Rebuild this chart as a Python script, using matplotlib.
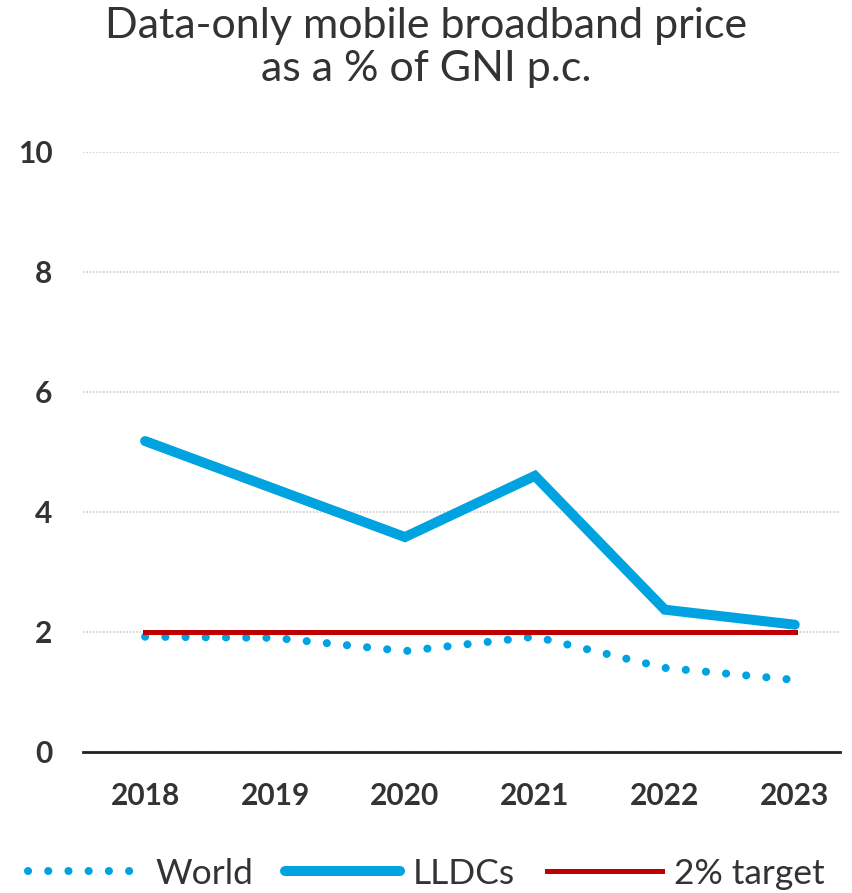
import matplotlib.pyplot as plt
import numpy as np

years = [2018, 2019, 2020, 2021, 2022, 2023]
world = [1.92, 1.90, 1.68, 1.92, 1.40, 1.20]
lldcs = [5.18, 4.38, 3.58, 4.60, 2.37, 2.12]
target = [2, 2, 2, 2, 2, 2]

blue = "#00A3E0"
red = "#C00000"

plt.rcParams["font.family"] = ["Lato", "DejaVu Sans"]

fig = plt.figure(figsize=(8.53, 8.93), dpi=100)
ax = fig.add_axes([0.097, 0.158, 0.888, 0.672])

x = np.arange(len(years))
ax.plot(x, world, color=blue, lw=5.8, linestyle=(0, (0.01, 2.5)),
        dash_capstyle="round", label="World", zorder=3)
ax.plot(x, lldcs, color=blue, lw=7.2, solid_capstyle="round",
        solid_joinstyle="miter", label="LLDCs", zorder=3)
ax.plot(x, target, color=red, lw=3.6, label="2% target", zorder=4)

ax.set_ylim(0, 10)
ax.set_xlim(-0.48, 5.35)
ax.set_yticks([0, 2, 4, 6, 8, 10])
ax.set_xticks(x)
ax.set_xticklabels([str(y) for y in years])
ax.tick_params(axis="both", length=0, labelsize=21.5, colors="#333333")
ax.tick_params(axis="x", pad=22)
ax.tick_params(axis="y", pad=22)
for lbl in ax.get_xticklabels() + ax.get_yticklabels():
    lbl.set_fontweight("bold")
ax.grid(axis="y", color="#CCCCCC", lw=1.2, linestyle=(0, (1, 1)))
ax.set_axisbelow(True)
for s in ["top", "right", "left"]:
    ax.spines[s].set_visible(False)
ax.spines["bottom"].set_color("#222222")
ax.spines["bottom"].set_linewidth(2)

fig.suptitle("Data-only mobile broadband price\nas a % of GNI p.c.",
             fontsize=31, color="#333333", y=0.992, linespacing=1.15)

fig.legend(loc="lower center", bbox_to_anchor=(0.5, -0.032), ncol=3,
           frameon=False, fontsize=25.5, handlelength=3.25, handletextpad=0.35,
           columnspacing=0.9, labelcolor="#333333")

fig.savefig("out.png", dpi=100)
